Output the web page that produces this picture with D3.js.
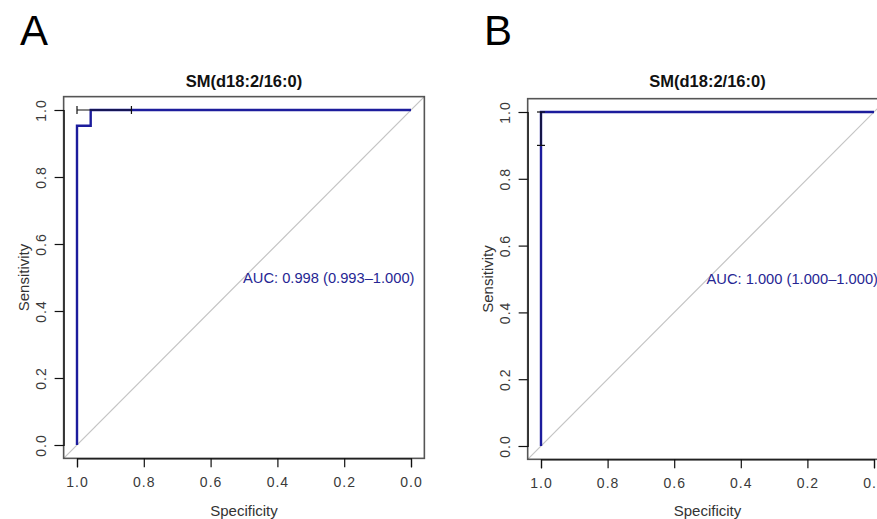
<!DOCTYPE html>
<html lang="en">
<head>
  <meta charset="UTF-8">
  <title>ROC curves - SM(d18:2/16:0)</title>
  <script src="https://d3js.org/d3.v7.min.js"></script>
  <style>
    body { margin: 0; background: #fff; }
    svg text { font-family: "Liberation Sans", Arial, sans-serif; }
  </style>
</head>
<body>
  <svg width="877" height="519"></svg>

  <script>
    // tick labels
    const ticks = [1.0, 0.8, 0.6, 0.4, 0.2, 0.0];

    // panel A: ROC steps (specificity / sensitivity)
    const specA = [1.0, 1.0, 0.959, 0.959, 0.0];
    const sensA = [0.0, 0.953, 0.953, 1.0, 1.0];
    // specificity CI at sensitivity 1.0
    const ciA = [1.0, 0.837];
    const aucA = "AUC: 0.998 (0.993\u20131.000)";

    // panel B
    const specB = [1.0, 1.0, 0.0];
    const sensB = [0.0, 1.0, 1.0];
    // sensitivity CI at specificity 1.0
    const ciB = [0.9, 1.0];
    const aucB = "AUC: 1.000 (1.000\u20131.000)";

    const title = "SM(d18:2/16:0)";

    const svg = d3.select("svg");

    function drawPanel(p) {
      const x = d3.scaleLinear().domain([1, 0]).range([p.x0, p.x1]);
      const y = d3.scaleLinear().domain([0, 1]).range([p.y0, p.y1]);
      // R style 4% padding around data range
      const pad = (p.x1 - p.x0) * 0.04;
      const g = svg.append("g");

      // diagonal reference (abline), clipped to the box
      const clipId = "clip" + p.letter;
      g.append("clipPath").attr("id", clipId)
        .append("rect")
        .attr("x", p.x0 - pad).attr("y", p.y1 - pad)
        .attr("width", p.x1 - p.x0 + 2 * pad).attr("height", p.y0 - p.y1 + 2 * pad);
      g.append("line")
        .attr("clip-path", `url(#${clipId})`)
        .attr("x1", x(1 + 0.04)).attr("y1", y(-0.04))
        .attr("x2", x(-0.04)).attr("y2", y(1.04))
        .attr("stroke", "#c4c4c4").attr("stroke-width", 1.2);

      // roc curve
      const line = d3.line().x(d => x(d[0])).y(d => y(d[1]));
      g.append("path")
        .datum(p.spec.map((s, i) => [s, p.sens[i]]))
        .attr("d", line)
        .attr("fill", "none")
        .attr("stroke", "#1c1c9c")
        .attr("stroke-width", 2.4);

      // CI bar
      const cap = 4;
      if (p.ciType === "spec") {
        const yy = y(1);
        g.append("line").attr("x1", x(p.ci[0])).attr("x2", x(p.ci[1]))
          .attr("y1", yy).attr("y2", yy).attr("stroke", "#111").attr("stroke-width", 1.2);
        p.ci.forEach(c => g.append("line").attr("x1", x(c)).attr("x2", x(c))
          .attr("y1", yy - cap).attr("y2", yy + cap).attr("stroke", "#111").attr("stroke-width", 1.2));
      } else {
        const xx = x(1);
        g.append("line").attr("y1", y(p.ci[0])).attr("y2", y(p.ci[1]))
          .attr("x1", xx).attr("x2", xx).attr("stroke", "#111").attr("stroke-width", 1.2);
        p.ci.forEach(c => g.append("line").attr("y1", y(c)).attr("y2", y(c))
          .attr("x1", xx - cap).attr("x2", xx + cap).attr("stroke", "#111").attr("stroke-width", 1.2));
      }

      // box
      g.append("rect")
        .attr("x", p.x0 - pad).attr("y", p.y1 - pad)
        .attr("width", p.x1 - p.x0 + 2 * pad).attr("height", p.y0 - p.y1 + 2 * pad)
        .attr("fill", "none").attr("stroke", "#555").attr("stroke-width", 1.6);

      // axes
      const xAxis = g.append("g")
        .attr("transform", `translate(0,${p.y0 + pad})`)
        .call(d3.axisBottom(x).tickValues(ticks).tickFormat(d3.format(".1f")).tickSize(9).tickPadding(10));
      const yAxis = g.append("g")
        .attr("transform", `translate(${p.x0 - pad},0)`)
        .call(d3.axisLeft(y).tickValues(ticks).tickFormat(d3.format(".1f")).tickSize(9));
      [xAxis, yAxis].forEach(a => {
        a.select(".domain").attr("stroke", "#111").attr("stroke-width", 1.2);
        a.selectAll(".tick line").attr("stroke", "#111").attr("stroke-width", 1.2);
        a.selectAll("text").attr("fill", "#3a3a3a").style("font-size", "14px")
          .style("letter-spacing", "1px");
      });
      yAxis.selectAll(".tick text")
        .attr("x", null).attr("dy", null)
        .attr("text-anchor", "middle")
        .attr("dominant-baseline", "central")
        .attr("transform", "translate(-23,0) rotate(-90)");

      const cx = (p.x0 + p.x1) / 2;

      // title
      g.append("text")
        .attr("x", cx).attr("y", 87)
        .attr("text-anchor", "middle")
        .style("font-size", "16.5px").style("font-weight", "bold")
        .attr("fill", "#111")
        .text(title);

      // axis titles
      g.append("text")
        .attr("x", cx).attr("y", 516)
        .attr("text-anchor", "middle")
        .style("font-size", "15px").attr("fill", "#333")
        .text("Specificity");
      g.append("text")
        .attr("transform", `translate(${p.x0 - pad - 40},${(p.y0 + p.y1) / 2}) rotate(-90)`)
        .attr("text-anchor", "middle")
        .attr("dominant-baseline", "central")
        .style("font-size", "15px").attr("fill", "#333")
        .text("Sensitivity");

      // AUC label
      g.append("text")
        .attr("x", x(0.5) - 1).attr("y", y(0.5))
        .attr("dominant-baseline", "central")
        .style("font-size", "14.7px").attr("fill", "#262693")
        .text(p.auc);

      // panel letter
      svg.append("text")
        .attr("x", p.lx).attr("y", 45)
        .style("font-size", "42px").attr("fill", "#000")
        .text(p.letter);
    }

    drawPanel({
      letter: "A", lx: 20,
      x0: 77, x1: 411, y0: 445, y1: 110,
      spec: specA, sens: sensA, ci: ciA, ciType: "spec", auc: aucA
    });
    drawPanel({
      letter: "B", lx: 484,
      x0: 541, x1: 874, y0: 446, y1: 112,
      spec: specB, sens: sensB, ci: ciB, ciType: "sens", auc: aucB
    });
  </script>
</body>
</html>
